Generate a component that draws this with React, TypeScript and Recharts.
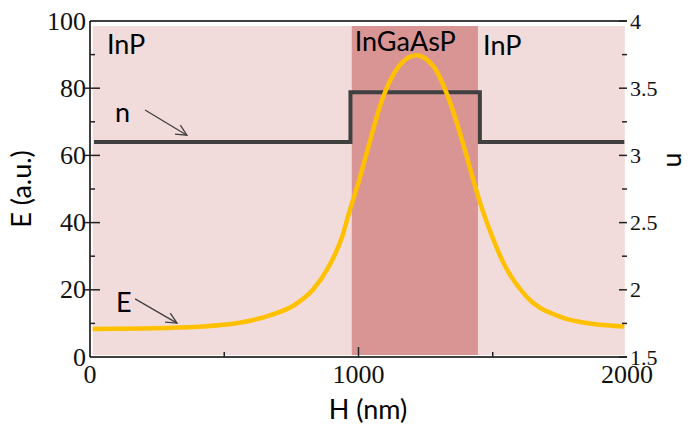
import React from 'react';
import {
  ComposedChart,
  Line,
  XAxis,
  YAxis,
  ReferenceArea,
  ReferenceLine,
  ReferenceDot,
} from 'recharts';

// field intensity E along the growth direction H (nm)
const ePos = [10, 200, 400, 550, 670, 760, 830, 890, 940, 965, 1000, 1035, 1090, 1150, 1215, 1280, 1340, 1395, 1430, 1465, 1490, 1540, 1625, 1750, 1875, 1990];
const eVals = [8.3, 8.5, 9.0, 10.1, 12.4, 15.4, 20, 27, 36, 43, 52, 62, 77, 86.5, 89.8, 86.4, 76, 62, 52, 43, 37.5, 28, 18, 12, 9.8, 9.1];

// refractive index profile
const nPos = [15, 970, 970, 1452, 1452, 1990];
const nVals = [3.1, 3.1, 3.47, 3.47, 3.1, 3.1];

// layers
const layerInP = [10, 1992];
const layerCore = [975, 1445];

const hTicks = [0, 500, 1000, 1500, 2000];
const hTopTicks = [500, 1000, 1500];
const eTicks = [0, 10, 20, 30, 40, 50, 60, 70, 80, 90, 100];
const nTicks = [1.5, 1.75, 2, 2.25, 2.5, 2.75, 3, 3.25, 3.5, 3.75, 4];

const eData = ePos.map((h, i) => ({ h, e: eVals[i] }));
const nData = nPos.map((h, i) => ({ h, n: nVals[i] }));

const SERIF = 'Liberation Serif';
const SANS = 'Lato';

const LeftTick = (props: any) => {
  const { x, y, payload } = props;
  const v = payload.value;
  const major = v % 20 === 0;
  return (
    <g>
      {v > 0 && v < 100 && (
        <line x1={major ? x - 5 : x} x2={major ? x + 10 : x + 5} y1={y} y2={y} stroke="#222" strokeWidth={1.5} />
      )}
      {major && (
        <text x={x - 4} y={y} textAnchor="end" dominantBaseline="central" fontFamily={SERIF} fontSize={26} fill="#111">
          {v}
        </text>
      )}
    </g>
  );
};

const RightTick = (props: any) => {
  const { x, y, payload } = props;
  const v = payload.value;
  const major = Math.abs(v * 2 - Math.round(v * 2)) < 1e-6;
  return (
    <g>
      <line x1={major ? x - 8 : x - 5} x2={x} y1={y} y2={y} stroke="#222" strokeWidth={1.5} />
      {major && (
        <text x={x + 3} y={y} textAnchor="start" dominantBaseline="central" fontFamily={SERIF} fontSize={22} fill="#111">
          {v}
        </text>
      )}
    </g>
  );
};

const BottomTick = (props: any) => {
  const { x, y, payload } = props;
  const v = payload.value;
  const major = v % 1000 === 0;
  return (
    <g>
      {v > 0 && v < 2000 && (
        <line x1={x} x2={x} y1={y} y2={major ? y - 10 : y - 5} stroke="#222" strokeWidth={1.5} />
      )}
      {major && (
        <text x={x} y={y + 17} textAnchor="middle" dominantBaseline="central" fontFamily={SERIF} fontSize={26} fill="#111">
          {v}
        </text>
      )}
    </g>
  );
};

const TopTick = (props: any) => {
  const { x, y, payload } = props;
  const major = payload.value % 1000 === 0;
  return <line x1={x} x2={x} y1={y} y2={major ? y + 10 : y + 6} stroke="#222" strokeWidth={1.5} />;
};

const note = (txt: string) => (p: any) => (
  <text x={p.cx} y={p.cy} fontFamily={SANS} fontSize={27} fill="#000">
    {txt}
  </text>
);

const arrow = (p: any) => {
  const { x1, y1, x2, y2 } = p;
  const a = Math.atan2(y2 - y1, x2 - x1);
  const L = 12;
  const s = 0.45;
  const pts = `${x2 - L * Math.cos(a - s)},${y2 - L * Math.sin(a - s)} ${x2},${y2} ${x2 - L * Math.cos(a + s)},${y2 - L * Math.sin(a + s)}`;
  return (
    <g stroke="#404040" strokeWidth={1.3} fill="none">
      <line x1={x1} y1={y1} x2={x2} y2={y2} />
      <polyline points={pts} />
    </g>
  );
};

export default function App() {
  return (
    <div style={{ position: 'absolute', left: 0, top: 0, width: 694, height: 431, background: '#fff' }}>
      <ComposedChart width={694} height={431} margin={{ top: 0, right: 0, bottom: 0, left: 0 }}>
        <XAxis
          dataKey="h"
          type="number"
          domain={[0, 2000]}
          ticks={hTicks}
          height={74}
          tickSize={0}
          tickMargin={0}
          tickLine={false}
          tick={BottomTick}
          axisLine={{ stroke: '#404040', strokeWidth: 2 }}
          label={(p: any) => {
            const vb = p.viewBox;
            return (
              <text x={368} y={vb.y + 62} textAnchor="middle" fontFamily={SANS} fontSize={27} fill="#000">
                H (nm)
              </text>
            );
          }}
        />
        <XAxis
          xAxisId="top"
          orientation="top"
          type="number"
          domain={[0, 2000]}
          ticks={hTopTicks}
          height={21}
          tickSize={0}
          tickMargin={0}
          tickLine={false}
          tick={TopTick}
          axisLine={{ stroke: '#000', strokeWidth: 1.3 }}
        />
        <YAxis
          yAxisId="e"
          domain={[0, 100]}
          ticks={eTicks}
          width={90}
          tickSize={0}
          tickMargin={0}
          tickLine={false}
          tick={LeftTick}
          axisLine={{ stroke: '#000', strokeWidth: 1.5 }}
          label={(p: any) => {
            const vb = p.viewBox;
            const cy = vb.y + vb.height / 2;
            return (
              <text x={20} y={cy} transform={`rotate(-90, 20, ${cy})`} textAnchor="middle" dominantBaseline="central" fontFamily={SANS} fontSize={27} fill="#000">
                E (a.u.)
              </text>
            );
          }}
        />
        <YAxis
          yAxisId="n"
          orientation="right"
          domain={[1.5, 4]}
          ticks={nTicks}
          width={67}
          tickSize={0}
          tickMargin={0}
          tickLine={false}
          tick={RightTick}
          axisLine={false}
          label={() => (
            <text x={677} y={160} transform="rotate(90, 677, 160)" textAnchor="middle" dominantBaseline="central" fontFamily={SANS} fontSize={27} fill="#000">
              n
            </text>
          )}
        />

        <ReferenceArea yAxisId="e" x1={layerInP[0]} x2={layerInP[1]} y1={0.6} y2={98.5} fill="#F2DCDB" fillOpacity={1} stroke="none" />
        <ReferenceArea yAxisId="e" x1={layerCore[0]} x2={layerCore[1]} y1={0.6} y2={98.5} fill="#D99594" fillOpacity={1} stroke="none" />

        <Line yAxisId="n" data={nData} dataKey="n" type="linear" stroke="#404040" strokeWidth={4} dot={false} isAnimationActive={false} />
        <Line yAxisId="e" data={eData} dataKey="e" type="monotone" stroke="#FFC000" strokeWidth={4.5} dot={false} isAnimationActive={false} />

        <ReferenceLine yAxisId="e" segment={[{ x: 205, y: 73.5 }, { x: 361, y: 66 }]} shape={arrow} />
        <ReferenceLine yAxisId="e" segment={[{ x: 168, y: 17.3 }, { x: 324, y: 10.1 }]} shape={arrow} />

        <ReferenceDot yAxisId="e" x={63} y={90.2} r={0} shape={note('InP')} />
        <ReferenceDot yAxisId="e" x={986} y={91.2} r={0} shape={note('InGaAsP')} />
        <ReferenceDot yAxisId="e" x={1464} y={89.9} r={0} shape={note('InP')} />
        <ReferenceDot yAxisId="e" x={93} y={69.9} r={0} shape={note('n')} />
        <ReferenceDot yAxisId="e" x={97} y={13.4} r={0} shape={note('E')} />
      </ComposedChart>
    </div>
  );
}
